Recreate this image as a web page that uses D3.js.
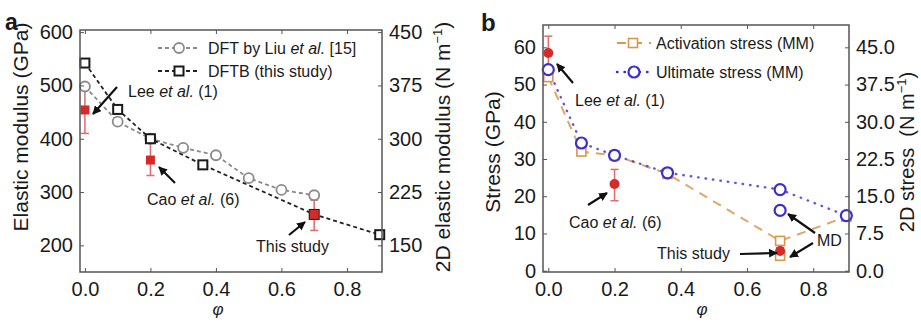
<!DOCTYPE html>
<html>
<head>
<meta charset="utf-8">
<title>Elastic modulus and stress vs phi</title>
<style>
  body { margin: 0; background: #fff; }
  svg text { font-family: "Liberation Sans", Arial, sans-serif; fill: #1a1a1a; }
</style>
</head>
<body>
<main></main>
<script src="https://cdn.jsdelivr.net/npm/d3@7"></script>
<script>
// ---- panel a data ----
var phiDFT = [0, 0.1, 0.2, 0.3, 0.4, 0.5, 0.6, 0.7];
var modDFT = [498, 432, 400, 383, 369, 326, 304, 294];
var phiDFTB = [0, 0.1, 0.2, 0.36, 0.7, 0.9];
var modDFTB = [542, 455, 400, 351, 258, 220];
var expPhiA = [0, 0.2, 0.7];
var expModA = [454, 360, 258];
var expLoA = [410, 331, 228];
var expHiA = [497, 396, 285];
var ticksA = [200, 300, 400, 500, 600];
var ticksA2 = [150, 225, 300, 375, 450];

// ---- panel b data ----
var phiB = [0, 0.1, 0.2, 0.36, 0.7, 0.9];
var actStress = [52, 32, 31, 26, 8, 14.5];
var ultStress = [54, 34.3, 31, 26.3, 21.8, 14.8];
var mdPhi = [0.7];
var mdUlt = [16.2];
var mdAct = [4.0];
var expPhiB = [0, 0.2, 0.7];
var expStressB = [58.5, 23.3, 5.3];
var expLoB = [54.5, 18.8, 4.4];
var expHiB = [63, 27.2, 6.2];
var ticksB = [0, 10, 20, 30, 40, 50, 60];
var ticksB2 = [0, 7.5, 15, 22.5, 30, 37.5, 45];
var ticksX = [0, 0.2, 0.4, 0.6, 0.8];

var width = 921, height = 322;
var red = "#d42a2a", redLight = "#e26a6a";

var svg = d3.select("main").append("svg")
    .attr("width", width).attr("height", height);

var defs = svg.append("defs");
defs.append("marker").attr("id", "arrow")
    .attr("viewBox", "0 0 10 10").attr("refX", 9).attr("refY", 5)
    .attr("markerWidth", 4).attr("markerHeight", 4).attr("orient", "auto")
    .append("path").attr("d", "M0,0 L10,5 L0,10 z").attr("fill", "#111");

// draws frame + ticks for a panel
function frame(g, x, y, y2, yTicks, y2Ticks, y2fmt) {
    var x0 = x.range()[0], x1 = x.range()[1];
    var yb = y.range()[0], yt = y.range()[1];
    g.append("rect").attr("x", x0).attr("y", yt)
        .attr("width", x1 - x0).attr("height", yb - yt)
        .attr("fill", "none").attr("stroke", "#555").attr("stroke-width", 1.5);

    g.append("g").attr("transform", "translate(0," + yb + ")")
        .call(d3.axisBottom(x).tickValues(ticksX).tickSize(-4).tickPadding(10).tickFormat(d3.format(".1f")))
        .call(s => s.select(".domain").remove());
    g.append("g").attr("transform", "translate(0," + yt + ")")
        .call(d3.axisTop(x).tickValues(ticksX).tickSize(-4).tickFormat(""))
        .call(s => s.select(".domain").remove());
    g.append("g").attr("transform", "translate(" + x0 + ",0)")
        .call(d3.axisLeft(y).tickValues(yTicks).tickSize(-4).tickPadding(7))
        .call(s => s.select(".domain").remove());
    g.append("g").attr("transform", "translate(" + x1 + ",0)")
        .call(d3.axisRight(y2).tickValues(y2Ticks).tickSize(-4).tickPadding(7).tickFormat(y2fmt))
        .call(s => s.select(".domain").remove());
    g.selectAll(".tick line").attr("stroke", "#555");
    g.selectAll(".tick text").attr("font-size", 20).attr("fill", "#1a1a1a")
        .attr("font-family", "'Liberation Sans', Arial, sans-serif");
}

function arrow(g, x1, y1, x2, y2) {
    g.append("line").attr("x1", x1).attr("y1", y1).attr("x2", x2).attr("y2", y2)
        .attr("stroke", "#111").attr("stroke-width", 2.2).attr("marker-end", "url(#arrow)");
}

function label(g, x, y, pre, it, post) {
    var t = g.append("text").attr("x", x).attr("y", y).attr("font-size", 16);
    t.append("tspan").text(pre);
    t.append("tspan").attr("font-style", "italic").text(it);
    t.append("tspan").text(post);
}

function rotTitle(g, x, y, size, parts) {
    var t = g.append("text").attr("transform", "translate(" + x + "," + y + ") rotate(-90)")
        .attr("text-anchor", "middle").attr("font-size", size);
    parts.forEach(function (p) {
        var s = t.append("tspan").text(p.t);
        if (p.sup) s.attr("font-size", 13).attr("dy", -8);
        if (p.down) s.attr("dy", 8);
    });
}

// ================= panel a =================
var ga = svg.append("g");
var xa = d3.scaleLinear().domain([-0.015, 0.907]).range([80, 382]);
var ya = d3.scaleLinear().domain([150, 604]).range([272, 30]);
var ya2 = d3.scaleLinear().domain([150 * 0.75, 604 * 0.75]).range([272, 30]);

var lineA = d3.line().x(d => xa(d[0])).y(d => ya(d[1]));
var dftPts = d3.zip(phiDFT, modDFT), dftbPts = d3.zip(phiDFTB, modDFTB);

ga.append("path").attr("d", lineA(dftPts)).attr("fill", "none")
    .attr("stroke", "#8a8a8a").attr("stroke-width", 1.8).attr("stroke-dasharray", "4,3");
ga.append("path").attr("d", lineA(dftbPts)).attr("fill", "none")
    .attr("stroke", "#222").attr("stroke-width", 1.8).attr("stroke-dasharray", "4,3");

// error bars a
var errA = d3.zip(expPhiA, expModA, expLoA, expHiA);
var eb = ga.selectAll(".eba").data(errA).enter().append("g");
eb.append("line").attr("x1", d => xa(d[0])).attr("x2", d => xa(d[0]))
    .attr("y1", d => ya(d[2])).attr("y2", d => ya(d[3])).attr("stroke", redLight).attr("stroke-width", 1.5);
eb.append("line").attr("x1", d => xa(d[0]) - 4).attr("x2", d => xa(d[0]) + 4)
    .attr("y1", d => ya(d[2])).attr("y2", d => ya(d[2])).attr("stroke", redLight).attr("stroke-width", 1.5);
eb.append("line").attr("x1", d => xa(d[0]) - 4).attr("x2", d => xa(d[0]) + 4)
    .attr("y1", d => ya(d[3])).attr("y2", d => ya(d[3])).attr("stroke", redLight).attr("stroke-width", 1.5);

ga.selectAll(".dft").data(dftPts).enter().append("circle")
    .attr("cx", d => xa(d[0])).attr("cy", d => ya(d[1])).attr("r", 5)
    .attr("fill", "#fff").attr("stroke", "#8a8a8a").attr("stroke-width", 1.8);
ga.selectAll(".dftb").data(dftbPts).enter().append("rect")
    .attr("x", d => xa(d[0]) - 4.5).attr("y", d => ya(d[1]) - 4.5).attr("width", 9).attr("height", 9)
    .attr("fill", "#fff").attr("stroke", "#1a1a1a").attr("stroke-width", 2);
ga.selectAll(".expa").data(errA).enter().append("rect")
    .attr("x", d => xa(d[0]) - 4.5).attr("y", d => ya(d[1]) - 4.5).attr("width", 9).attr("height", 9)
    .attr("fill", red);

frame(ga, xa, ya, ya2, ticksA, ticksA2, d3.format("d"));

// legend a
ga.append("line").attr("x1", 158).attr("x2", 200).attr("y1", 48).attr("y2", 48)
    .attr("stroke", "#8a8a8a").attr("stroke-width", 1.8).attr("stroke-dasharray", "4,3");
ga.append("circle").attr("cx", 179).attr("cy", 48).attr("r", 5)
    .attr("fill", "#fff").attr("stroke", "#8a8a8a").attr("stroke-width", 1.8);
label(ga, 208, 54, "DFT by Liu ", "et al.", " [15]");
ga.append("line").attr("x1", 158).attr("x2", 200).attr("y1", 71).attr("y2", 71)
    .attr("stroke", "#222").attr("stroke-width", 1.8).attr("stroke-dasharray", "4,3");
ga.append("rect").attr("x", 174.5).attr("y", 66.5).attr("width", 9).attr("height", 9)
    .attr("fill", "#fff").attr("stroke", "#1a1a1a").attr("stroke-width", 2);
label(ga, 208, 77, "DFTB (this study)", "", "");

// annotations a
label(ga, 128, 97, "Lee ", "et al.", " (1)");
arrow(ga, 117, 87, 93, 114);
label(ga, 147, 205, "Cao ", "et al.", " (6)");
arrow(ga, 175, 183, 159, 167);
label(ga, 256, 252, "This study", "", "");
arrow(ga, 289, 235, 305, 222);

ga.append("text").attr("x", 5).attr("y", 30).attr("font-size", 23).attr("font-weight", "bold").text("a");
rotTitle(ga, 28, 127, 21, [{t: "Elastic modulus (GPa)"}]);
rotTitle(ga, 450, 147, 21, [{t: "2D elastic modulus (N m"}, {t: "\u22121", sup: true}, {t: ")", down: true}]);
ga.append("text").attr("x", 218).attr("y", 315).attr("font-size", 17).attr("text-anchor", "middle")
    .attr("font-style", "italic").attr("font-family", "'Liberation Serif', serif").text("\u03c6");

// ================= panel b =================
var gb = svg.append("g");
var xb = d3.scaleLinear().domain([-0.016, 0.908]).range([543, 849]);
var yb = d3.scaleLinear().domain([-0.35, 66]).range([272, 25]);
var yb2 = d3.scaleLinear().domain([-0.35 * 0.75, 66 * 0.75]).range([272, 25]);
var lineB = d3.line().x(d => xb(d[0])).y(d => yb(d[1]));
var actPts = d3.zip(phiB, actStress), ultPts = d3.zip(phiB, ultStress);
var orange = "#d9974e", blue = "#3b2fd0";

gb.append("path").attr("d", lineB(actPts)).attr("fill", "none")
    .attr("stroke", orange).attr("stroke-opacity", 0.85).attr("stroke-width", 2).attr("stroke-dasharray", "9,7");
gb.append("path").attr("d", lineB(ultPts)).attr("fill", "none")
    .attr("stroke", blue).attr("stroke-opacity", 0.8).attr("stroke-width", 2.4)
    .attr("stroke-dasharray", "0.5,7").attr("stroke-linecap", "round");

var errB = d3.zip(expPhiB, expStressB, expLoB, expHiB);
var ebb = gb.selectAll(".ebb").data(errB).enter().append("g");
ebb.append("line").attr("x1", d => xb(d[0])).attr("x2", d => xb(d[0]))
    .attr("y1", d => yb(d[2])).attr("y2", d => yb(d[3])).attr("stroke", redLight).attr("stroke-width", 1.5);
ebb.append("line").attr("x1", d => xb(d[0]) - 4).attr("x2", d => xb(d[0]) + 4)
    .attr("y1", d => yb(d[2])).attr("y2", d => yb(d[2])).attr("stroke", redLight).attr("stroke-width", 1.5);
ebb.append("line").attr("x1", d => xb(d[0]) - 4).attr("x2", d => xb(d[0]) + 4)
    .attr("y1", d => yb(d[3])).attr("y2", d => yb(d[3])).attr("stroke", redLight).attr("stroke-width", 1.5);

var actAll = actPts.concat(d3.zip(mdPhi, mdAct));
gb.selectAll(".act").data(actAll).enter().append("rect")
    .attr("x", d => xb(d[0]) - 4.5).attr("y", d => yb(d[1]) - 4.5).attr("width", 9).attr("height", 9)
    .attr("fill", "#fff").attr("stroke", orange).attr("stroke-width", 1.6);
var ultAll = ultPts.concat(d3.zip(mdPhi, mdUlt));
gb.selectAll(".ult").data(ultAll).enter().append("circle")
    .attr("cx", d => xb(d[0])).attr("cy", d => yb(d[1])).attr("r", 5.5)
    .attr("fill", "#fff").attr("stroke", blue).attr("stroke-width", 2.2);
gb.selectAll(".expb").data(errB).enter().append("circle")
    .attr("cx", d => xb(d[0])).attr("cy", d => yb(d[1])).attr("r", 5)
    .attr("fill", red);

frame(gb, xb, yb, yb2, ticksB, ticksB2, d3.format(".1f"));

// legend b
gb.append("line").attr("x1", 617).attr("x2", 651).attr("y1", 43).attr("y2", 43)
    .attr("stroke", orange).attr("stroke-width", 2).attr("stroke-dasharray", "9,7");
gb.append("rect").attr("x", 628.5).attr("y", 38.5).attr("width", 9).attr("height", 9)
    .attr("fill", "#fff").attr("stroke", orange).attr("stroke-width", 1.6);
label(gb, 656, 49, "Activation stress (MM)", "", "");
gb.append("line").attr("x1", 617).attr("x2", 653).attr("y1", 72).attr("y2", 72)
    .attr("stroke", blue).attr("stroke-width", 2.4).attr("stroke-dasharray", "0.5,7").attr("stroke-linecap", "round");
gb.append("circle").attr("cx", 634).attr("cy", 72).attr("r", 5.5)
    .attr("fill", "#fff").attr("stroke", blue).attr("stroke-width", 2.2);
label(gb, 656, 78, "Ultimate stress (MM)", "", "");

// annotations b
label(gb, 575, 106, "Lee ", "et al.", " (1)");
arrow(gb, 573, 83, 557, 64);
label(gb, 569, 228, "Cao ", "et al.", " (6)");
arrow(gb, 588, 205, 607, 193);
label(gb, 657, 259, "This study", "", "");
arrow(gb, 740, 254, 777, 253);
label(gb, 817, 246, "MD", "", "");
arrow(gb, 815, 233, 788, 214);
arrow(gb, 813, 243, 790, 257);

gb.append("text").attr("x", 481).attr("y", 31).attr("font-size", 24).attr("font-weight", "bold").text("b");
rotTitle(gb, 500, 152, 21, [{t: "Stress (GPa)"}]);
rotTitle(gb, 914, 152, 20, [{t: "2D stress\u00a0\u00a0(N m"}, {t: "\u22121", sup: true}, {t: ")", down: true}]);
gb.append("text").attr("x", 702).attr("y", 315).attr("font-size", 17).attr("text-anchor", "middle")
    .attr("font-style", "italic").attr("font-family", "'Liberation Serif', serif").text("\u03c6");
</script>
</body>
</html>
